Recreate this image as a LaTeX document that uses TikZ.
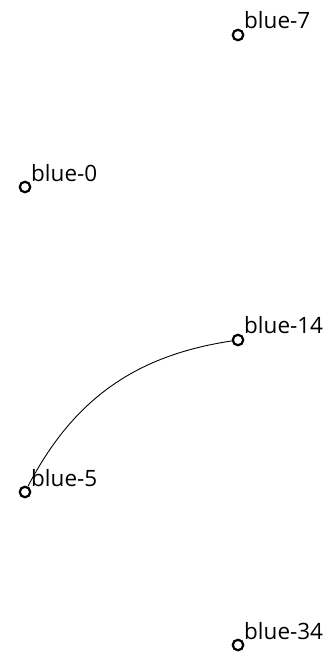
\documentclass[tikz,border=0pt]{standalone}
\usepackage{fontspec}
\setmainfont{Open Sans}
\begin{document}
\begin{tikzpicture}[x=1pt,y=-1pt,
  vtx/.style={circle,draw=black,line width=2.2pt,minimum size=10.5pt,inner sep=0pt},
  lbl/.style={anchor=base west,inner sep=0pt,font=\fontsize{22.5}{25}\selectfont}]
\useasboundingbox (0,0) rectangle (327,656);
\node[vtx] (b7) at (238,35) {};
\node[vtx] (b0) at (25,187) {};
\node[vtx] (b14) at (238,340) {};
\node[vtx] (b5) at (25,492) {};
\node[vtx] (b34) at (238,645) {};
\node[lbl] (l7) at (244,28) {blue-7};
\node[lbl] (l0) at (31,181) {blue-0};
\node[lbl] (l14) at (244,333) {blue-14};
\node[lbl] (l5) at (31,486) {blue-5};
\node[lbl] (l34) at (244,639) {blue-34};
\draw[line width=0.9pt] (b5) to[bend left=27] (b14);
\end{tikzpicture}
\end{document}
